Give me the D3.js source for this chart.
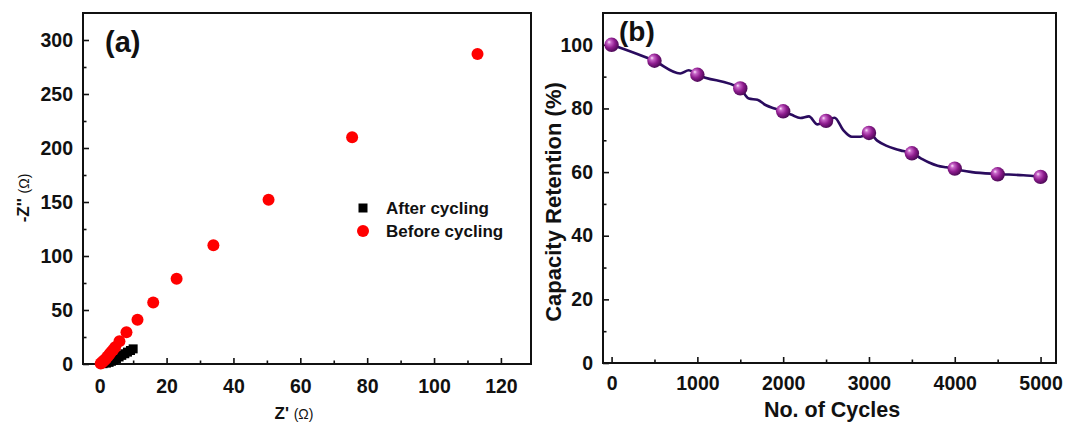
<!DOCTYPE html>
<html>
<head>
<meta charset="utf-8">
<script src="https://cdn.jsdelivr.net/npm/d3@7"></script>
<style>
  body { margin: 0; background: #fff; }
  text { font-family: "Liberation Sans", Arial, sans-serif; font-weight: bold; fill: #111; }
</style>
</head>
<body>
<svg id="chart" width="1067" height="425"></svg>
<script>
// panel (a) - Nyquist plot
var afterCycling = [
  [1.0, 0.3], [2.0, 0.8], [2.8, 1.5], [3.5, 2.5], [4.2, 3.5], [5.0, 5.0],
  [5.8, 6.5], [6.6, 8.0], [7.5, 9.5], [8.3, 11.0], [9.2, 12.5], [10.0, 14.0]
];
var beforeCycling = [
  [0.3, 0.5], [0.6, 1.2], [0.9, 2.0], [1.2, 3.0], [1.6, 4.0], [2.0, 5.5],
  [2.4, 7.0], [2.9, 9.0], [3.4, 11.0], [4.0, 13.0], [4.6, 15.5], [5.9, 21.0],
  [8.0, 29.5], [11.3, 41], [16.0, 57], [23.0, 79], [34.0, 110], [50.5, 152],
  [75.5, 210], [113.0, 287]
];
var zrTicks = [0, 20, 40, 60, 80, 100, 120];
var ziTicks = [0, 50, 100, 150, 200, 250, 300];

// panel (b) - cycling stability
var cycleLine = [
  [0, 100], [500, 94.9], [800, 91.0], [900, 92.0], [1000, 90.6], [1500, 86.2],
  [1600, 83.1], [1700, 82.7], [1800, 81.0], [1900, 80.0], [2000, 79.1], [2100, 78.0],
  [2200, 77.0], [2300, 77.5], [2400, 75.0], [2500, 76.0], [2600, 77.1], [2700, 73.2],
  [2800, 71.1], [2900, 71.1], [3000, 72.3], [3100, 69.8], [3200, 68.3], [3300, 67.3],
  [3400, 66.6], [3500, 65.9], [3600, 64.4], [3700, 63.0], [3800, 62.0], [3900, 61.5],
  [4000, 61.1], [4100, 60.4], [4200, 60.0], [4500, 59.4], [4800, 59.0], [5000, 58.5]
];
var cycleMarkers = [
  [0, 100], [500, 95], [1000, 90.6], [1500, 86.3], [2000, 79.1], [2500, 76.1],
  [3000, 72.3], [3500, 65.9], [4000, 61.1], [4500, 59.3], [5000, 58.5]
];
var cycTicks = [0, 1000, 2000, 3000, 4000, 5000];
var retTicks = [0, 20, 40, 60, 80, 100];

var svg = d3.select("#chart");

var defs = svg.append("defs");
var grad = defs.append("radialGradient")
    .attr("id", "sphere")
    .attr("cx", "40%").attr("cy", "40%").attr("r", "60%")
    .attr("fx", "32%").attr("fy", "30%");
grad.append("stop").attr("offset", "0%").attr("stop-color", "#fbe6fb");
grad.append("stop").attr("offset", "22%").attr("stop-color", "#c866c8");
grad.append("stop").attr("offset", "60%").attr("stop-color", "#8e1c8e");
grad.append("stop").attr("offset", "100%").attr("stop-color", "#4e0a58");

// draws a frame with inward ticks
function frame(g, x, y, xMajor, xMinor, yMajor, yMinor) {
    var x0 = x.range()[0], x1 = x.range()[1];
    var y0 = y.range()[0], y1 = y.range()[1];
    var fmt = d3.format("d");

    g.append("g").attr("transform", "translate(0," + y0 + ")")
        .call(d3.axisBottom(x).tickValues(xMinor).tickSize(-3.5).tickFormat(""));
    g.append("g").attr("transform", "translate(0," + y0 + ")")
        .call(d3.axisBottom(x).tickValues(xMajor).tickSize(-6).tickPadding(15).tickFormat(fmt))
        .attr("class", "xax");
    g.append("g").attr("transform", "translate(" + x0 + ",0)")
        .call(d3.axisLeft(y).tickValues(yMinor).tickSize(-3.5).tickFormat(""));
    g.append("g").attr("transform", "translate(" + x0 + ",0)")
        .call(d3.axisLeft(y).tickValues(yMajor).tickSize(-6).tickPadding(10).tickFormat(fmt))
        .attr("class", "yax");

    g.selectAll(".domain").remove();
    g.selectAll(".tick line").attr("stroke", "#111").attr("stroke-width", 1.6);
    g.selectAll(".tick text").style("font-size", "19.5px").attr("fill", "#111")
        .style("font-family", "'Liberation Sans', Arial, sans-serif").style("font-weight", "bold");

    g.append("rect")
        .attr("x", x0).attr("y", y1)
        .attr("width", x1 - x0).attr("height", y0 - y1)
        .attr("fill", "none").attr("stroke", "#111").attr("stroke-width", 2);
}

// ---------- panel (a) ----------
var xa = d3.scaleLinear().domain([-5, 129]).range([83, 531]);
var ya = d3.scaleLinear().domain([0, 325]).range([364, 13]);
var ga = svg.append("g");

frame(ga, xa, ya, zrTicks, d3.range(10, 130, 20), ziTicks, d3.range(25, 325, 50));
ga.select(".xax").selectAll(".tick text").attr("dy", "0.71em");

ga.append("g").selectAll("rect")
    .data(afterCycling).enter().append("rect")
    .attr("x", function(d) { return xa(d[0]) - 4.5; })
    .attr("y", function(d) { return ya(d[1]) - 4.5; })
    .attr("width", 9).attr("height", 9)
    .attr("fill", "#000");

ga.append("g").selectAll("circle")
    .data(beforeCycling).enter().append("circle")
    .attr("cx", function(d) { return xa(d[0]); })
    .attr("cy", function(d) { return ya(d[1]); })
    .attr("r", 6)
    .attr("fill", "#ff0000");

// legend
ga.append("rect").attr("x", 358.5).attr("y", 203.5).attr("width", 9).attr("height", 9).attr("fill", "#000");
ga.append("circle").attr("cx", 363).attr("cy", 231).attr("r", 6).attr("fill", "#ff0000");
ga.append("text").attr("x", 386).attr("y", 214).style("font-size", "17px").text("After cycling");
ga.append("text").attr("x", 386).attr("y", 237).style("font-size", "17px").text("Before cycling");

ga.append("text").attr("x", 105).attr("y", 52).style("font-size", "29px").text("(a)");

var xlab = ga.append("text").attr("x", 294).attr("y", 419).attr("text-anchor", "middle");
xlab.append("tspan").style("font-size", "17px").text("Z' ");
xlab.append("tspan").style("font-size", "14px").style("font-weight", "normal").text("(\u03A9)");

var ylab = ga.append("text")
    .attr("transform", "translate(29,198) rotate(-90)")
    .attr("text-anchor", "middle");
ylab.append("tspan").style("font-size", "17px").text("-Z'' ");
ylab.append("tspan").style("font-size", "14px").style("font-weight", "normal").text("(\u03A9)");

// ---------- panel (b) ----------
var xb = d3.scaleLinear().domain([-100, 5180]).range([603, 1056]);
var yb = d3.scaleLinear().domain([0, 110]).range([363, 13]);
var gb = svg.append("g");

frame(gb, xb, yb, cycTicks, d3.range(500, 5000, 1000), retTicks, d3.range(10, 110, 20));
gb.select(".xax").selectAll(".tick text").attr("dy", "0.6em");

var line = d3.line()
    .x(function(d) { return xb(d[0]); })
    .y(function(d) { return yb(d[1]); })
    .curve(d3.curveMonotoneX);

gb.append("path")
    .datum(cycleLine)
    .attr("d", line)
    .attr("fill", "none")
    .attr("stroke", "#2a0b5e")
    .attr("stroke-width", 2.6);

gb.append("g").selectAll("circle")
    .data(cycleMarkers).enter().append("circle")
    .attr("cx", function(d) { return xb(d[0]); })
    .attr("cy", function(d) { return yb(d[1]); })
    .attr("r", 7.2)
    .attr("fill", "url(#sphere)");

gb.append("text").attr("x", 619).attr("y", 41).style("font-size", "28px").text("(b)");

gb.append("text").attr("x", 832).attr("y", 417).attr("text-anchor", "middle")
    .style("font-size", "21.5px").text("No. of Cycles");

gb.append("text")
    .attr("transform", "translate(561,202) rotate(-90)")
    .attr("text-anchor", "middle")
    .style("font-size", "22px").text("Capacity Retention (%)");
</script>
</body>
</html>
